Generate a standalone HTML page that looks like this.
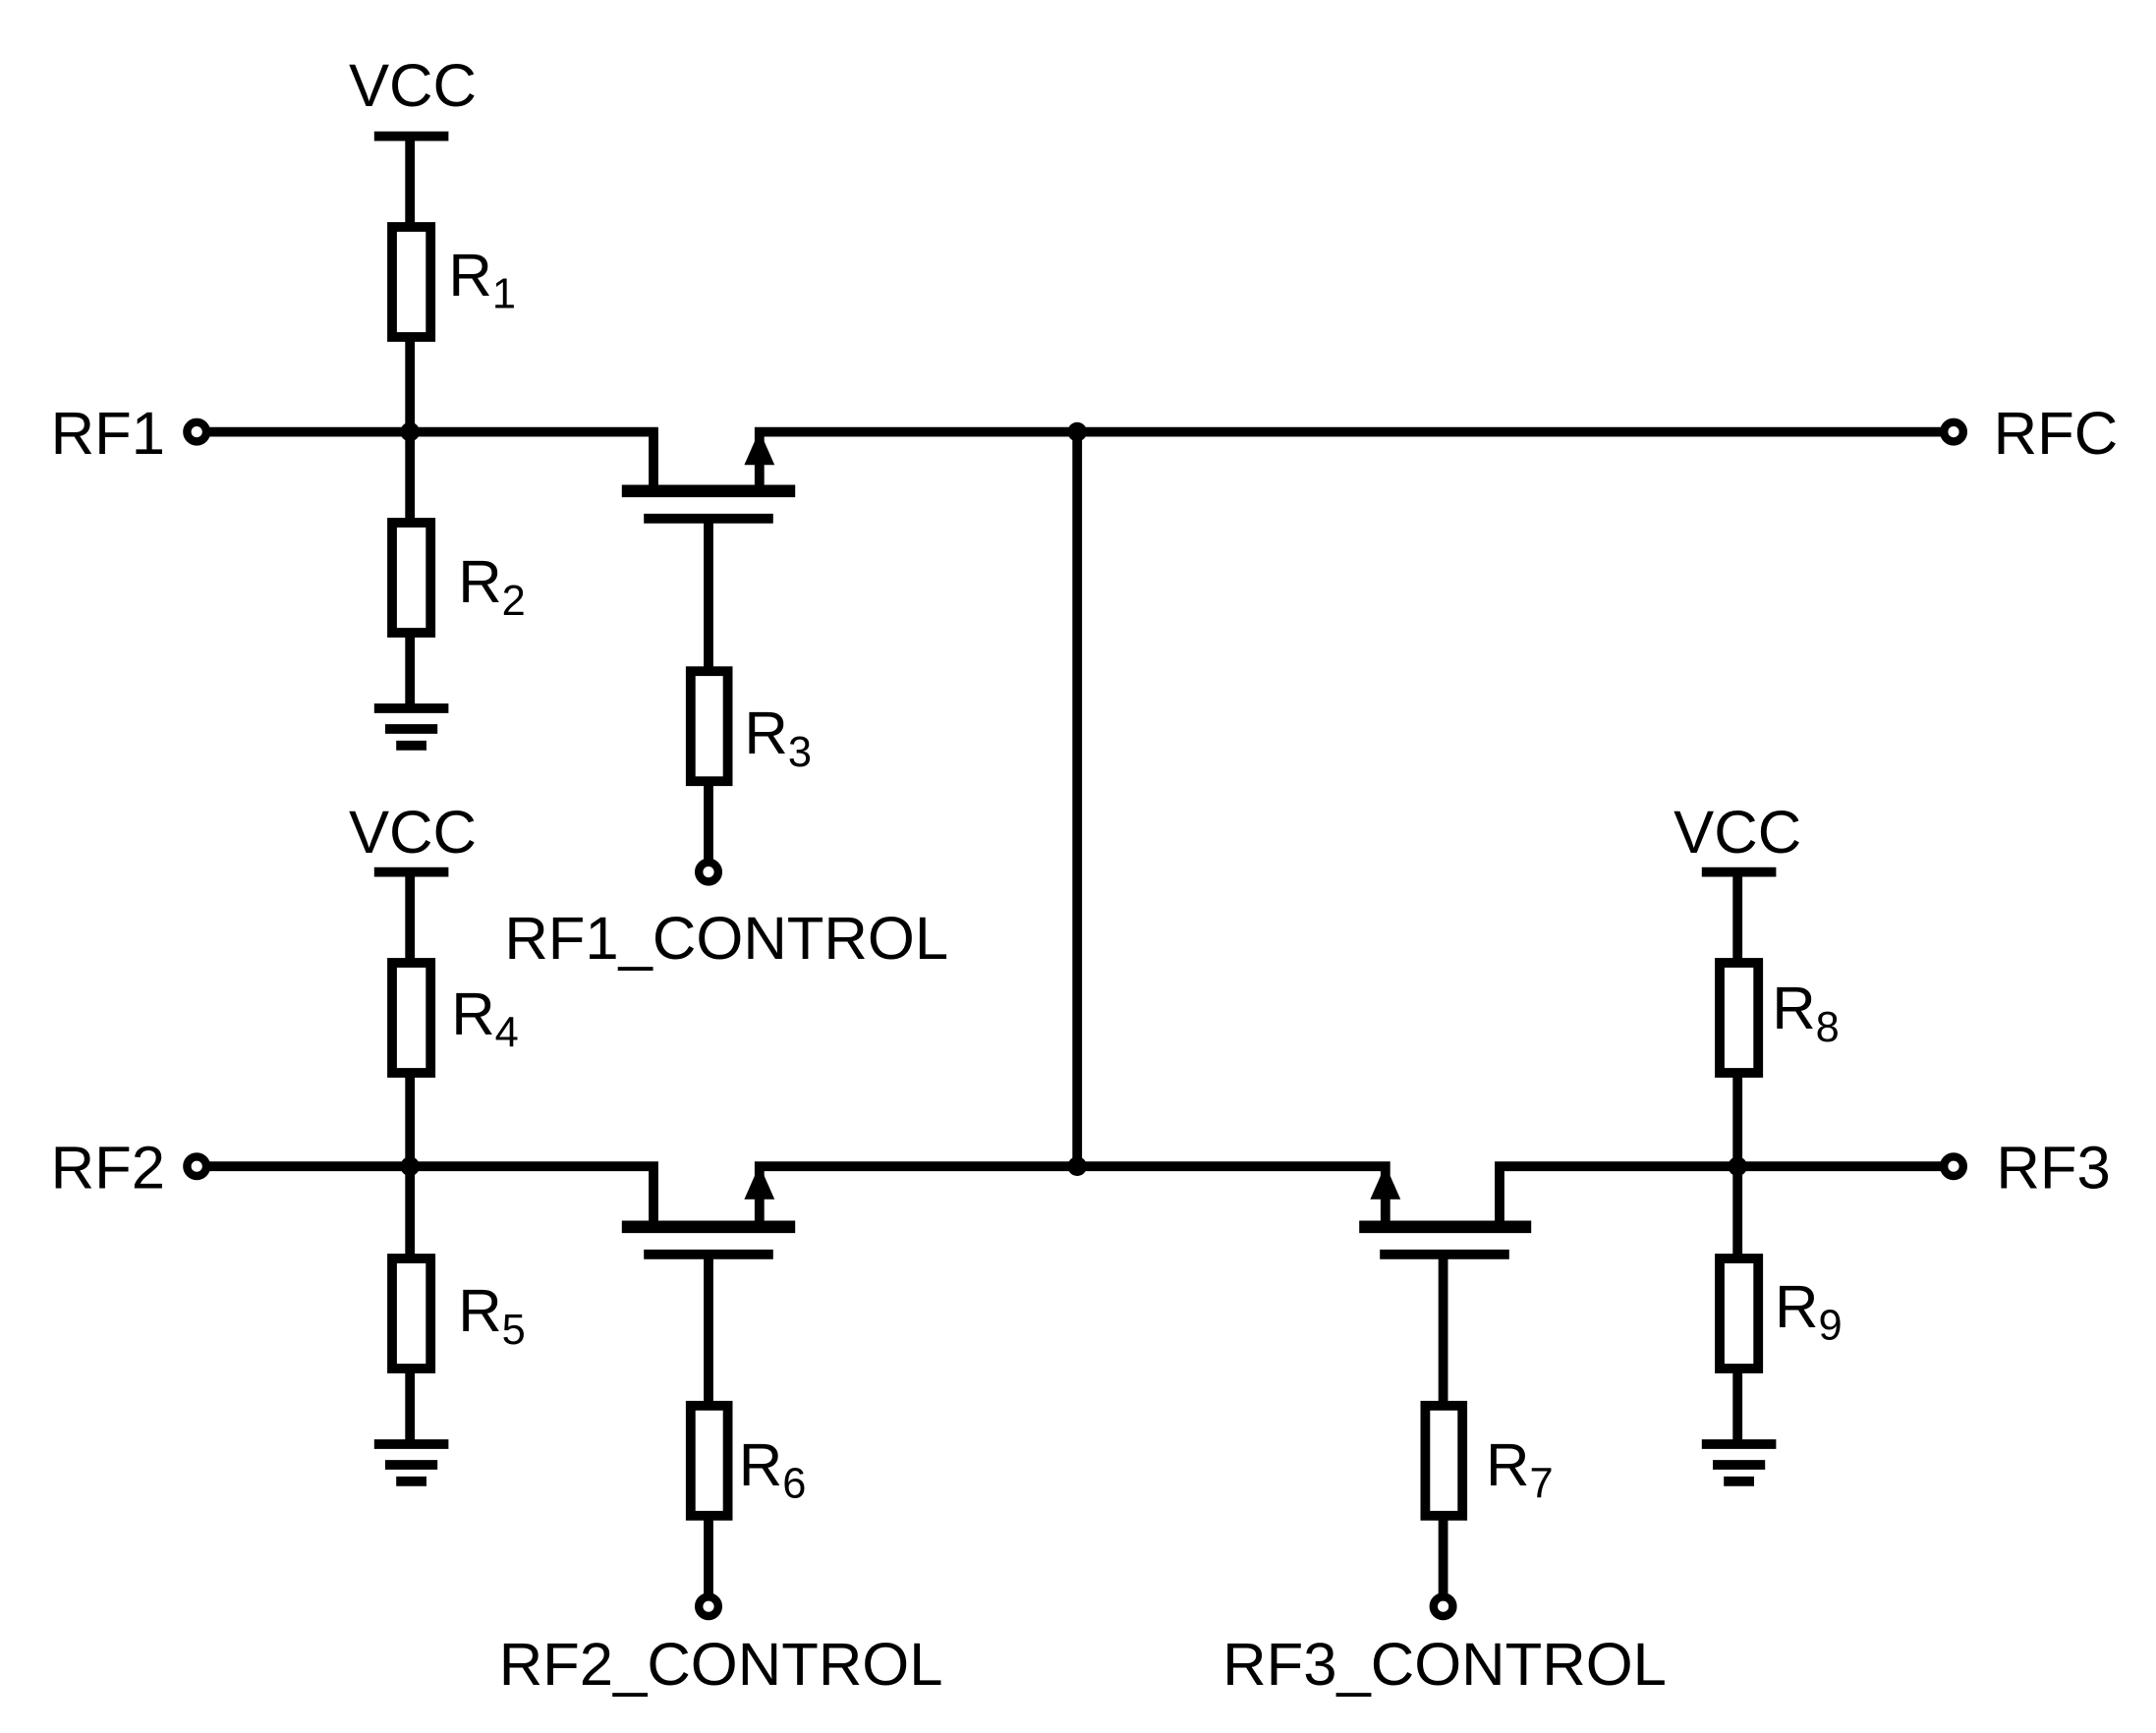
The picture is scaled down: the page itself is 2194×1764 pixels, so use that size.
<!DOCTYPE html>
<html><head><style>html,body{margin:0;padding:0;background:#fff}svg{display:block}</style></head><body>
<svg width="2194" height="1764" viewBox="0 0 2194 1764" xmlns="http://www.w3.org/2000/svg">
<g transform="scale(1.400)" stroke="#000" stroke-width="7" fill="none" font-family="Liberation Sans, sans-serif">
<line x1="272" y1="99" x2="326" y2="99"/>
<line x1="298" y1="99" x2="298" y2="163"/>
<rect x="285" y="165" width="28" height="80"/>
<line x1="298" y1="247" x2="298" y2="378"/>
<rect x="285" y="380" width="28" height="80"/>
<line x1="298" y1="462" x2="298" y2="515"/>
<line x1="272" y1="515" x2="326" y2="515"/>
<line x1="280" y1="530" x2="318" y2="530"/>
<line x1="288" y1="542" x2="310" y2="542"/>
<polyline points="150,314 475,314 475,357"/>
<line x1="452" y1="357" x2="578" y2="357" stroke-width="9"/>
<line x1="468" y1="377" x2="562" y2="377"/>
<line x1="515" y1="377" x2="515" y2="487"/>
<rect x="502" y="488" width="27" height="80"/>
<line x1="515" y1="570" x2="515" y2="627"/>
<polyline points="552,357 552,314 1413,314"/>
<line x1="783" y1="314" x2="783" y2="848"/>

<line x1="272" y1="634" x2="326" y2="634"/>
<line x1="298" y1="634" x2="298" y2="698"/>
<rect x="285" y="700" width="28" height="80"/>
<line x1="298" y1="782" x2="298" y2="913"/>
<rect x="285" y="915" width="28" height="80"/>
<line x1="298" y1="997" x2="298" y2="1050"/>
<line x1="272" y1="1050" x2="326" y2="1050"/>
<line x1="280" y1="1065" x2="318" y2="1065"/>
<line x1="288" y1="1077" x2="310" y2="1077"/>
<polyline points="150,848 475,848 475,892"/>
<line x1="452" y1="892" x2="578" y2="892" stroke-width="9"/>
<line x1="468" y1="912" x2="562" y2="912"/>
<line x1="515" y1="912" x2="515" y2="1021"/>
<rect x="502" y="1022" width="27" height="80"/>
<line x1="515" y1="1104" x2="515" y2="1161"/>
<polyline points="552,892 552,848 1007,848 1007,892"/>

<line x1="988" y1="892" x2="1113" y2="892" stroke-width="9"/>
<line x1="1003" y1="912" x2="1097" y2="912"/>
<line x1="1049" y1="912" x2="1049" y2="1021"/>
<rect x="1036" y="1022" width="27" height="80"/>
<line x1="1049" y1="1104" x2="1049" y2="1161"/>
<polyline points="1090,892 1090,848 1413,848"/>
<line x1="1237" y1="634" x2="1291" y2="634"/>
<line x1="1263" y1="634" x2="1263" y2="698"/>
<rect x="1250" y="700" width="28" height="80"/>
<line x1="1263" y1="782" x2="1263" y2="913"/>
<rect x="1250" y="915" width="28" height="80"/>
<line x1="1263" y1="997" x2="1263" y2="1050"/>
<line x1="1237" y1="1050" x2="1291" y2="1050"/>
<line x1="1245" y1="1065" x2="1283" y2="1065"/>
<line x1="1253" y1="1077" x2="1275" y2="1077"/>

<g fill="#000" stroke="none">
<polygon points="552,313 541,338 563,338"/>
<polygon points="552,847 541,872 563,872"/>
<polygon points="1007,847 996,872 1018,872"/>
<circle cx="298" cy="314" r="7"/>
<circle cx="783" cy="314" r="7"/>
<circle cx="298" cy="848" r="7"/>
<circle cx="783" cy="848" r="7"/>
<circle cx="1263" cy="848" r="7"/>
</g>
<g fill="#fff" stroke-width="6">
<circle cx="143" cy="314" r="7"/>
<circle cx="1420" cy="314" r="7"/>
<circle cx="143" cy="848" r="7"/>
<circle cx="1420" cy="848" r="7"/>
<circle cx="515" cy="634" r="7"/>
<circle cx="515" cy="1168" r="7"/>
<circle cx="1049" cy="1168" r="7"/>
</g>
<g fill="#000" stroke="none" font-size="44">
<text x="300" y="77" text-anchor="middle">VCC</text>
<text x="300" y="620" text-anchor="middle">VCC</text>
<text x="1263" y="620" text-anchor="middle">VCC</text>
<text x="120" y="330" text-anchor="end">RF1</text>
<text x="120" y="864" text-anchor="end">RF2</text>
<text x="1449" y="330">RFC</text>
<text x="1451" y="864">RF3</text>
<text x="528" y="697" text-anchor="middle">RF1_CONTROL</text>
<text x="524" y="1225" text-anchor="middle">RF2_CONTROL</text>
<text x="1050" y="1225" text-anchor="middle">RF3_CONTROL</text>
<text x="326" y="215">R<tspan font-size="31" dy="9">1</tspan></text>
<text x="333" y="438">R<tspan font-size="31" dy="9">2</tspan></text>
<text x="541" y="548">R<tspan font-size="31" dy="9">3</tspan></text>
<text x="328" y="752">R<tspan font-size="31" dy="9">4</tspan></text>
<text x="333" y="968">R<tspan font-size="31" dy="9">5</tspan></text>
<text x="537" y="1080">R<tspan font-size="31" dy="9">6</tspan></text>
<text x="1080" y="1080">R<tspan font-size="31" dy="9">7</tspan></text>
<text x="1288" y="748">R<tspan font-size="31" dy="9">8</tspan></text>
<text x="1290" y="965">R<tspan font-size="31" dy="9">9</tspan></text>
</g>
</g>
</svg>
</body></html>
